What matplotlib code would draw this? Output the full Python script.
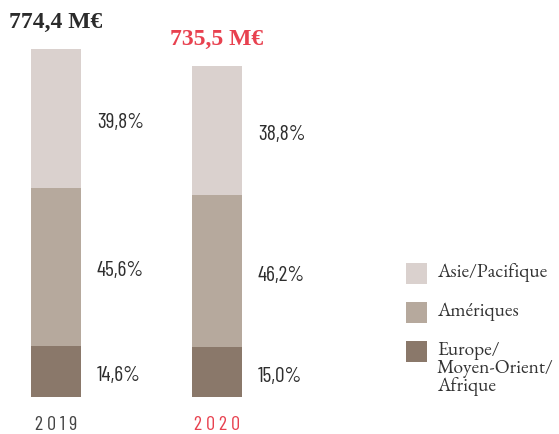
import matplotlib
matplotlib.use("Agg")
import matplotlib.pyplot as plt
from matplotlib import font_manager
from matplotlib.patches import Rectangle

# data
years = ["2019", "2020"]
totals = [774.4, 735.5]
total_labels = ["774,4 M€", "735,5 M€"]
regions = ["Europe/\nMoyen-Orient/\nAfrique", "Amériques", "Asie/Pacifique"]
shares = {
    "Europe/\nMoyen-Orient/\nAfrique": [14.6, 15.0],
    "Amériques": [45.6, 46.2],
    "Asie/Pacifique": [39.8, 38.8],
}
share_labels = {
    "Europe/\nMoyen-Orient/\nAfrique": ["14,6%", "15,0%"],
    "Amériques": ["45,6%", "46,2%"],
    "Asie/Pacifique": ["39,8%", "38,8%"],
}
colors = {
    "Europe/\nMoyen-Orient/\nAfrique": "#8a786a",
    "Amériques": "#b6a99d",
    "Asie/Pacifique": "#dad1ce",
}
year_colors = ["#444444", "#e8414f"]
total_colors = ["#2b2b2b", "#e8414f"]

installed = {f.name for f in font_manager.fontManager.ttflist}
def pick(*names):
    for n in names:
        if n in installed:
            return n
    return "DejaVu Sans"

narrow = pick("Barlow Condensed", "Asap Condensed", "Archivo Narrow")
serif = pick("EB Garamond", "Cormorant Garamond", "Liberation Serif")
title_serif = pick("Liberation Serif")

fig = plt.figure(figsize=(5.59, 4.34), dpi=100)
ax = fig.add_axes([0, 0, 1, 1])
ax.set_xlim(-0.3478, 3.124)
ax.set_ylim(-82.3, 883.4)
ax.axis("off")

bar_w = 0.31
for i, year in enumerate(years):
    bottom = 0
    for reg in regions:
        h = totals[i] * shares[reg][i] / 100
        ax.bar(i, h, bar_w, bottom=bottom, color=colors[reg], linewidth=0)
        ax.annotate(share_labels[reg][i], (i + bar_w / 2, bottom + h / 2),
                    xytext=(16, -4), textcoords="offset pixels",
                    ha="left", va="center", fontsize=15.5, family=narrow,
                    fontweight="normal", color="#2e2e2e")
        bottom += h
    ax.annotate(total_labels[i], (i, totals[i]), xytext=(0, 27), textcoords="offset pixels",
                ha="center", va="center", fontsize=17, fontweight="bold",
                family=title_serif, color=total_colors[i])
    ax.annotate("\u2009".join(year), (i, 0), xytext=(0, -28), textcoords="offset pixels",
                ha="center", va="center", fontsize=14.5, family=[narrow, "DejaVu Sans"],
                fontweight="normal", color=year_colors[i])

# legend drawn by hand
W, H = 559, 434
legend_rows = [("Asie/Pacifique", 263), ("Amériques", 302), ("Europe/\nMoyen-Orient/\nAfrique", 341)]
for reg, ytop in legend_rows:
    fig.patches.append(Rectangle((406 / W, 1 - (ytop + 21) / H), 21 / W, 21 / H,
                                 transform=fig.transFigure, color=colors[reg], linewidth=0))
    fig.text(437 / W, 1 - ytop / H, reg, ha="left", va="top", fontsize=14,
             family=serif, color="#333333", linespacing=0.95)

fig.savefig("out.png", dpi=100)
